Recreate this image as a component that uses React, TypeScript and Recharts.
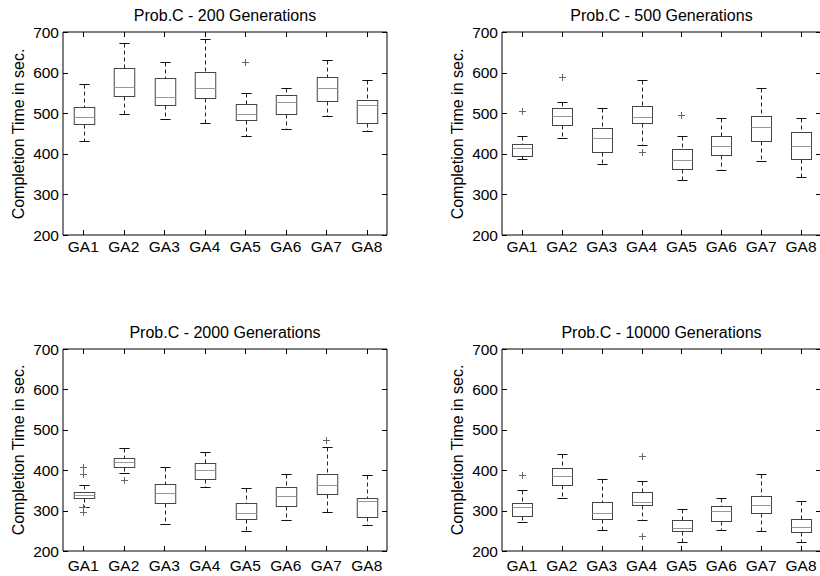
import React from "react";
import { ComposedChart, Bar, Scatter, XAxis, YAxis, ReferenceArea } from "recharts";

const categories = ["GA1", "GA2", "GA3", "GA4", "GA5", "GA6", "GA7", "GA8"];
const yTicks = [200, 300, 400, 500, 600, 700];

// each row: [lower whisker, q1, median, q3, upper whisker]
const gen200 = [
  [432, 474, 490, 515, 571],
  [498, 542, 564, 611, 673],
  [485, 519, 540, 586, 625],
  [477, 538, 561, 602, 682],
  [444, 483, 499, 522, 550],
  [462, 497, 528, 544, 563],
  [494, 531, 563, 589, 630],
  [456, 476, 521, 532, 582],
];
const out200: [string, number][] = [["GA5", 627]];

const gen500 = [
  [388, 394, 415, 425, 445],
  [440, 470, 492, 512, 527],
  [375, 404, 439, 463, 512],
  [422, 475, 490, 518, 582],
  [336, 362, 385, 411, 445],
  [360, 398, 420, 445, 489],
  [383, 431, 466, 494, 563],
  [342, 386, 419, 453, 489],
];
const out500: [string, number][] = [
  ["GA1", 506],
  ["GA2", 590],
  ["GA4", 404],
  ["GA5", 496],
];

const gen2000 = [
  [310, 331, 339, 347, 364],
  [392, 409, 421, 431, 456],
  [267, 320, 343, 367, 408],
  [359, 378, 401, 419, 446],
  [250, 278, 295, 320, 356],
  [277, 311, 335, 358, 391],
  [296, 340, 364, 390, 458],
  [264, 285, 323, 332, 387],
];
const out2000: [string, number][] = [
  ["GA1", 407],
  ["GA1", 390],
  ["GA1", 308],
  ["GA1", 296],
  ["GA2", 375],
  ["GA7", 474],
];

const gen10000 = [
  [271, 286, 309, 320, 350],
  [331, 364, 386, 406, 441],
  [253, 280, 293, 322, 377],
  [276, 314, 322, 346, 373],
  [222, 249, 257, 276, 303],
  [251, 275, 299, 312, 330],
  [250, 295, 314, 337, 391],
  [223, 248, 259, 280, 324],
];
const out10000: [string, number][] = [
  ["GA1", 388],
  ["GA4", 436],
  ["GA4", 236],
];

const FONT = '"Liberation Sans", Arial, Helvetica, sans-serif';

function BoxShape(props: any) {
  const { x, y, width, height, payload } = props;
  if (!payload || !height) return null;
  const { lo, q1, med, q3, hi } = payload;
  const k = height / (hi - lo);
  const py = (v: number) => Math.round(y + (hi - v) * k) + 0.5;
  const cx = Math.round(x + width / 2) + 0.5;
  const bw = width / 4;
  const cw = width / 8;
  return (
    <g>
      <line x1={cx} x2={cx} y1={py(hi)} y2={py(q3)} stroke="#222" strokeDasharray="4 3" />
      <line x1={cx} x2={cx} y1={py(q1)} y2={py(lo)} stroke="#222" strokeDasharray="4 3" />
      <line x1={cx - cw} x2={cx + cw} y1={py(hi)} y2={py(hi)} stroke="#111" />
      <line x1={cx - cw} x2={cx + cw} y1={py(lo)} y2={py(lo)} stroke="#111" />
      <rect x={cx - bw} y={py(q3)} width={bw * 2} height={py(q1) - py(q3)} fill="#fff" stroke="#444" />
      <line x1={cx - bw} x2={cx + bw} y1={py(med)} y2={py(med)} stroke="#999" />
    </g>
  );
}

function PlusShape(props: any) {
  const { cx, cy } = props;
  if (cx == null || cy == null) return null;
  const px = Math.round(cx) + 0.5;
  const py = Math.round(cy) + 0.5;
  return (
    <g>
      <line x1={px - 3.5} x2={px + 3.5} y1={py} y2={py} stroke="#666" />
      <line x1={px} x2={px} y1={py - 3.5} y2={py + 3.5} stroke="#666" />
    </g>
  );
}

// left tick draws label plus inward marks on both the left and right frame
function makeLeftTick(plotW: number) {
  return function LeftTick(props: any) {
    const { x, y, payload } = props;
    const py = Math.round(y) + 0.5;
    return (
      <g>
        <line x1={x} x2={x + 5} y1={py} y2={py} stroke="#000" />
        <line x1={x + plotW} x2={x + plotW - 5} y1={py} y2={py} stroke="#000" />
        <text x={x - 4} y={y} dy="0.36em" textAnchor="end" fontSize={15.5} fill="#000" fontFamily={FONT}>
          {payload.value}
        </text>
      </g>
    );
  };
}

// bottom tick draws label plus inward marks on both the bottom and top frame
function makeBottomTick(labelGap: number, plotH: number) {
  return function BottomTick(props: any) {
    const { x, y, payload } = props;
    const px = Math.round(x) + 0.5;
    return (
      <g>
        <line x1={px} x2={px} y1={y} y2={y - 5} stroke="#000" />
        <line x1={px} x2={px} y1={y - plotH} y2={y - plotH + 5} stroke="#000" />
        <text x={x} y={y + labelGap} textAnchor="middle" fontSize={15.5} fill="#000" fontFamily={FONT}>
          {payload.value}
        </text>
      </g>
    );
  };
}

interface PanelProps {
  left: number;
  top: number;
  width: number;
  plotLeft: number;
  plotTop: number;
  plotRight: number;
  plotBottom: number;
  labelGap: number;
  title: string;
  stats: number[][];
  outliers: [string, number][];
}

function Panel(p: PanelProps) {
  const height = 288;
  const data = categories.map((name, i) => ({
    name,
    lo: p.stats[i][0],
    q1: p.stats[i][1],
    med: p.stats[i][2],
    q3: p.stats[i][3],
    hi: p.stats[i][4],
  }));
  const pts = p.outliers.map(([name, v]) => ({ name, v }));
  const bottomH = height - p.plotBottom;
  const rightW = p.width - p.plotRight;
  const midY = (p.plotTop + p.plotBottom) / 2;
  const plotW = p.plotRight - p.plotLeft;
  const plotH = p.plotBottom - p.plotTop;
  return (
    <div style={{ position: "absolute", left: p.left, top: p.top, width: p.width, height }}>
      <div
        style={{
          position: "absolute",
          left: p.plotLeft,
          width: plotW,
          top: p.plotTop - 24,
          lineHeight: "16px",
          fontSize: 16,
          textAlign: "center",
          color: "#000",
          whiteSpace: "nowrap",
        }}
      >
        {p.title}
      </div>
      <div
        style={{
          position: "absolute",
          left: p.plotLeft - 44,
          top: midY,
          transform: "translate(-50%, -50%) rotate(-90deg)",
          fontSize: 16,
          lineHeight: "16px",
          color: "#000",
          whiteSpace: "nowrap",
        }}
      >
        Completion Time in sec.
      </div>
      <ComposedChart
        width={p.width}
        height={height}
        data={data}
        margin={{ top: p.plotTop, right: rightW, bottom: bottomH - 20, left: 0 }}
        barCategoryGap={0}
        style={{ position: "absolute", left: 0, top: 0 }}
      >
        <XAxis
          dataKey="name"
          type="category"
          allowDuplicatedCategory={false}
          height={20}
          tickSize={0}
          tickMargin={0}
          tickLine={false}
          axisLine={false}
          tick={makeBottomTick(p.labelGap, plotH)}
          interval={0}
        />
        <YAxis
          type="number"
          domain={[200, 700]}
          ticks={yTicks}
          width={p.plotLeft}
          tickSize={0}
          tickMargin={0}
          tickLine={false}
          axisLine={false}
          tick={makeLeftTick(plotW)}
          interval={0}
        />
        <ReferenceArea y1={200} y2={700} fill="none" stroke="#000" strokeWidth={1} />
        <Bar dataKey={(d: any) => [d.lo, d.hi]} shape={BoxShape} isAnimationActive={false} />
        <Scatter data={pts} dataKey="v" shape={PlusShape} isAnimationActive={false} />
      </ComposedChart>
    </div>
  );
}

export default function App() {
  return (
    <div
      style={{
        position: "fixed",
        left: 0,
        top: 0,
        width: 820,
        height: 576,
        overflow: "hidden",
        background: "#fff",
        fontFamily: FONT,
      }}
    >
      <Panel left={0} top={0} width={410} plotLeft={63} plotTop={32} plotRight={387} plotBottom={235}
        labelGap={17} title="Prob.C - 200 Generations" stats={gen200} outliers={out200} />
      <Panel left={410} top={0} width={430} plotLeft={92} plotTop={32} plotRight={411} plotBottom={235}
        labelGap={17} title="Prob.C - 500 Generations" stats={gen500} outliers={out500} />
      <Panel left={0} top={288} width={410} plotLeft={63} plotTop={61} plotRight={387} plotBottom={263}
        labelGap={20} title="Prob.C - 2000 Generations" stats={gen2000} outliers={out2000} />
      <Panel left={410} top={288} width={430} plotLeft={92} plotTop={61} plotRight={411} plotBottom={263}
        labelGap={20} title="Prob.C - 10000 Generations" stats={gen10000} outliers={out10000} />
    </div>
  );
}
